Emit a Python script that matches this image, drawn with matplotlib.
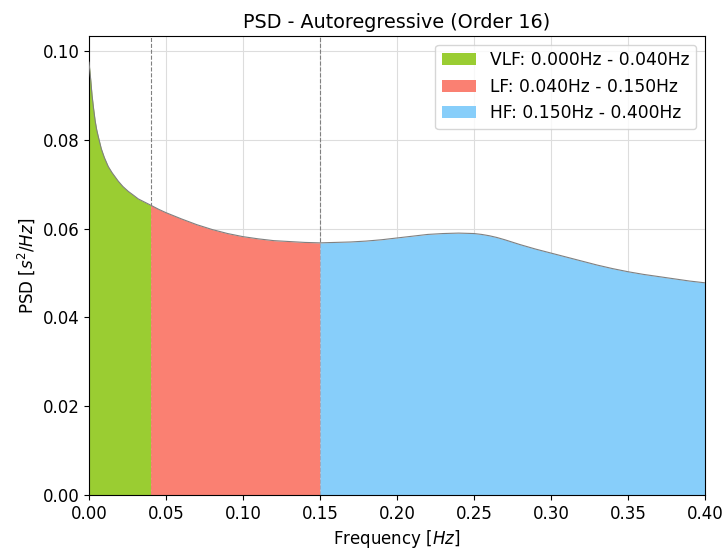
import numpy as np
import matplotlib.pyplot as plt

# PSD estimate (autoregressive, order 16), sampled frequencies in Hz
freq = [0.0, 0.001, 0.002, 0.003, 0.004, 0.005, 0.006, 0.008, 0.010, 0.0125,
        0.015, 0.019, 0.022, 0.0255, 0.029, 0.032, 0.036, 0.040, 0.045, 0.050,
        0.060, 0.070, 0.080, 0.090, 0.100, 0.110, 0.120, 0.130, 0.140, 0.150,
        0.160, 0.170, 0.180, 0.190, 0.200, 0.210, 0.220, 0.230, 0.240, 0.250,
        0.255, 0.260, 0.265, 0.270, 0.280, 0.290, 0.300, 0.310, 0.320, 0.330,
        0.340, 0.350, 0.360, 0.370, 0.380, 0.390, 0.400]
psd = [0.0975, 0.0940, 0.0900, 0.0870, 0.0843, 0.0823, 0.0808, 0.0780, 0.0760, 0.0740,
       0.0726, 0.0707, 0.0695, 0.0684, 0.0675, 0.0667, 0.0660, 0.0653, 0.0644, 0.0636,
       0.0622, 0.0609, 0.0598, 0.0589, 0.0582, 0.0577, 0.0573, 0.0571, 0.0569, 0.0568,
       0.0569, 0.0570, 0.0572, 0.0575, 0.0579, 0.0583, 0.0587, 0.0589, 0.0590, 0.0589,
       0.0587, 0.0584, 0.0580, 0.0575, 0.0564, 0.0554, 0.0545, 0.0536, 0.0527, 0.0518,
       0.0510, 0.0503, 0.0497, 0.0492, 0.0487, 0.0482, 0.0478]

bands = ["VLF", "LF", "HF"]
band_lo = [0.0, 0.04, 0.15]
band_hi = [0.04, 0.15, 0.40]
band_colors = ["yellowgreen", "salmon", "lightskyblue"]

freq = np.array(freq)
psd = np.array(psd)

fig = plt.figure(figsize=(7.27, 5.51), dpi=100)
ax = fig.add_axes([0.1224, 0.1016, 0.8473, 0.8331])

ax.grid(True, color="#dddddd", linewidth=0.8, zorder=0)
ax.set_axisbelow(True)

for b in band_lo[1:]:
    ax.axvline(b, color="gray", linestyle="--", linewidth=0.8, zorder=1)

for name, lo, hi, c in zip(bands, band_lo, band_hi, band_colors):
    m = (freq >= lo) & (freq <= hi)
    ax.fill_between(freq[m], psd[m], 0, color=c, linewidth=0, zorder=2,
                    label=f"{name}: {lo:.3f}Hz - {hi:.3f}Hz")

ax.plot(freq, psd, color="gray", linewidth=0.8, zorder=3)

ax.set_xlim(0, 0.4)
ax.set_ylim(0, 0.1034)
ax.set_xticks(np.arange(0, 0.401, 0.05))
ax.set_yticks(np.arange(0, 0.101, 0.02))
ax.tick_params(labelsize=12)
ax.xaxis.set_major_formatter(plt.FormatStrFormatter("%.2f"))
ax.yaxis.set_major_formatter(plt.FormatStrFormatter("%.2f"))

ax.set_title("PSD - Autoregressive (Order 16)", fontsize=13.75)
ax.set_xlabel("Frequency [$Hz$]", fontsize=12)
ax.set_ylabel("PSD [$s^2/Hz$]", fontsize=12)
ax.legend(loc="upper right", fontsize=12.3)

fig.savefig("out.png", dpi=100)
